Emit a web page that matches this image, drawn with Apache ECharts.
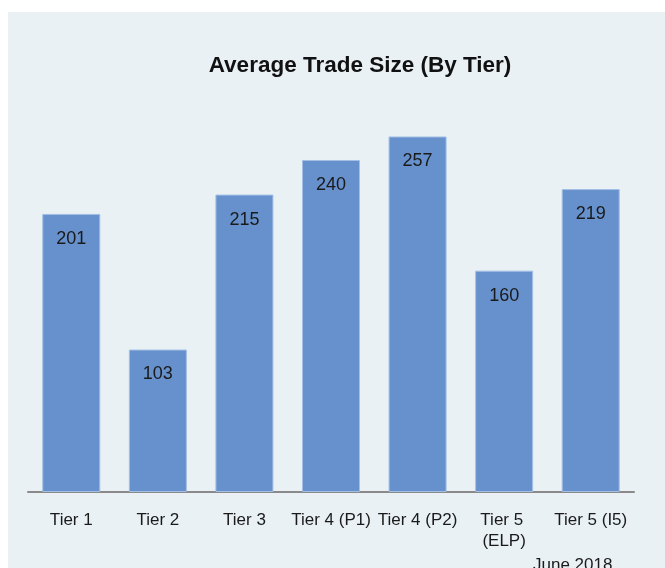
<!DOCTYPE html>
<html>
<head>
<meta charset="utf-8">
<title>Average Trade Size (By Tier)</title>
<script src="https://cdn.jsdelivr.net/npm/echarts@6/dist/echarts.min.js"></script>
<style>
    html, body { margin: 0; padding: 0; background: #ffffff; }
    #chart { position: absolute; left: 8px; top: 12px; width: 657px; height: 556px; }
</style>
</head>
<body>
<div id="chart"></div>
<script>
// chart data
var tiers = ['Tier 1', 'Tier 2', 'Tier 3', 'Tier 4 (P1)', 'Tier 4 (P2)', 'Tier 5 (ELP)', 'Tier 5 (I5)'];
var tradeSize = [201, 103, 215, 240, 257, 160, 219];
var titleText = 'Average Trade Size (By Tier)';
var footNote = 'June 2018';

var font = 'Liberation Sans';

var chart = echarts.init(document.getElementById('chart'));
chart.setOption({
    backgroundColor: '#e9f1f5',
    animation: false,
    title: {
        text: titleText,
        left: 352,
        top: 42,
        padding: 0,
        textAlign: 'center',
        textStyle: {
            fontFamily: font,
            fontSize: 22.5,
            fontWeight: 'bold',
            color: '#111111'
        }
    },
    grid: {
        left: 20,
        right: 31,
        top: 65,
        bottom: 76
    },
    xAxis: {
        type: 'category',
        data: tiers,
        axisTick: { show: false },
        axisLine: {
            lineStyle: { color: '#8a8a8a', width: 2 }
        },
        axisLabel: {
            interval: 0,
            margin: 18,
            fontFamily: font,
            fontSize: 17,
            lineHeight: 21,
            color: '#1a1a1a',
            width: 86,
            overflow: 'break'
        }
    },
    yAxis: {
        type: 'value',
        min: 0,
        max: 300,
        show: false,
        splitLine: { show: false }
    },
    series: [{
        type: 'bar',
        data: tradeSize,
        barCategoryGap: '33%',
        itemStyle: {
            color: '#6691cc',
            borderColor: '#a3bfe4',
            borderWidth: 1
        },
        label: {
            show: true,
            position: 'insideTop',
            distance: 16,
            fontFamily: font,
            fontSize: 18,
            color: '#1a1a1a'
        }
    }],
    graphic: [{
        type: 'text',
        left: 525,
        top: 545,
        style: {
            text: footNote,
            font: '17px "Liberation Sans"',
            fill: '#1a1a1a'
        }
    }]
});
</script>
</body>
</html>
